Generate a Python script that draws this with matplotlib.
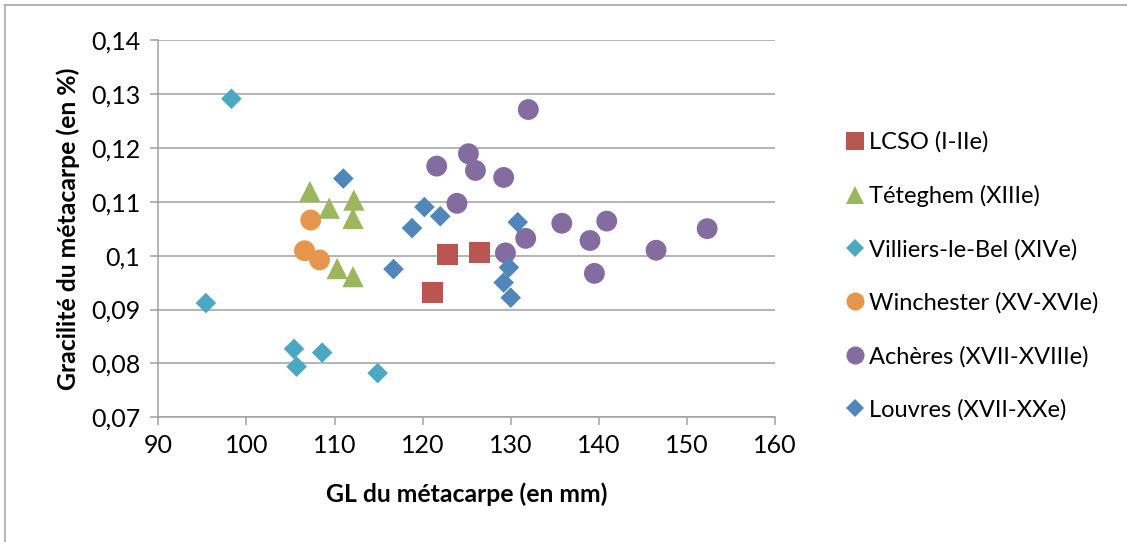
import matplotlib
matplotlib.use("Agg")
import matplotlib.pyplot as plt
from matplotlib.lines import Line2D

plt.rcParams['font.family'] = ['Lato', 'DejaVu Sans']

# ---- data ----
lcso_x = [121.1, 122.8, 126.5]
lcso_y = [0.0932, 0.1002, 0.1005]

teteghem_x = [107.2, 109.4, 112.2, 112.1, 110.3, 112.1]
teteghem_y = [0.1119, 0.1088, 0.1103, 0.1069, 0.0976, 0.0961]

villiers_x = [98.3, 95.4, 105.4, 105.7, 108.6, 114.9]
villiers_y = [0.1291, 0.0912, 0.0827, 0.0794, 0.0820, 0.0782]

winchester_x = [107.3, 106.6, 108.3]
winchester_y = [0.1066, 0.1009, 0.0992]

acheres_x = [132.0, 121.6, 125.2, 126.0, 129.2, 123.9, 131.7, 129.4,
             135.8, 139.0, 140.9, 139.5, 146.5, 152.3]
acheres_y = [0.1271, 0.1166, 0.1189, 0.1158, 0.1145, 0.1097, 0.1032, 0.1005,
             0.1060, 0.1028, 0.1064, 0.0967, 0.1010, 0.1050]

louvres_x = [111.0, 116.7, 118.8, 120.2, 122.0, 130.8, 129.8, 129.2, 130.0]
louvres_y = [0.1143, 0.0975, 0.1051, 0.1090, 0.1073, 0.1062, 0.0978, 0.0950, 0.0922]

labels = ["LCSO (I-IIe)", "Téteghem (XIIIe)", "Villiers-le-Bel (XIVe)",
          "Winchester (XV-XVIe)", "Achères (XVII-XVIIIe)", "Louvres (XVII-XXe)"]
x_ticks = [90, 100, 110, 120, 130, 140, 150, 160]
y_ticks = [0.07, 0.08, 0.09, 0.10, 0.11, 0.12, 0.13, 0.14]
y_ticklabels = ["0,07", "0,08", "0,09", "0,1", "0,11", "0,12", "0,13", "0,14"]

# ---- styling ----
series = [
    (lcso_x, lcso_y, 's', '#BA5650', 230),
    (teteghem_x, teteghem_y, '^', '#9BB65D', 235),
    (villiers_x, villiers_y, 'D', '#4BA8C2', 110),
    (winchester_x, winchester_y, 'o', '#E6954C', 225),
    (acheres_x, acheres_y, 'o', '#856CA0', 225),
    (louvres_x, louvres_y, 'D', '#5086BA', 110),
]
draw_order = [4, 3, 1, 0, 2, 5]

W, H = 1127, 542
fig = plt.figure(figsize=(W / 100, H / 100), dpi=100)
ax = fig.add_axes([158.3 / W, 1 - 417.3 / H, (775 - 158.3) / W, (417.3 - 40) / H])

for i in draw_order:
    xs, ys, m, c, s = series[i]
    ax.scatter(xs, ys, marker=m, s=s, color=c, edgecolors='none', zorder=3)

ax.set_xlim(90, 160)
ax.set_ylim(0.07, 0.14)
ax.set_xticks(x_ticks)
ax.set_xticklabels([str(v) for v in x_ticks])
ax.set_yticks(y_ticks)
ax.set_yticklabels(y_ticklabels)

grid_c = '#A0A0A0'
ax.yaxis.grid(True, color=grid_c, linewidth=1.1, zorder=0)
ax.set_axisbelow(True)
for sp in ['top', 'right']:
    ax.spines[sp].set_visible(False)
for sp in ['left', 'bottom']:
    ax.spines[sp].set_color(grid_c)
    ax.spines[sp].set_linewidth(1.1)
ax.tick_params(axis='both', colors=grid_c, length=6, width=1.1, labelcolor='black',
               labelsize=18)
ax.tick_params(axis='x', pad=6)
ax.tick_params(axis='y', pad=7)

ax.set_xlabel("GL du métacarpe (en mm)", fontsize=17.8, fontweight='bold', labelpad=18)
ax.set_ylabel("Gracilité du métacarpe (en %)", fontsize=17.8, fontweight='bold', labelpad=8)

handles = []
for i in range(6):
    xs, ys, m, c, s = series[i]
    ms = 9 if m == 'D' else 13
    handles.append(Line2D([], [], linestyle='none', marker=m, color=c,
                          markersize=ms, markeredgewidth=0))
fig.legend(handles, labels, loc='upper left', bbox_to_anchor=(836 / W, 1 - 122 / H),
           frameon=False, fontsize=17, labelspacing=1.35, handlelength=0.8,
           handletextpad=0.2, borderaxespad=0)

# chart border (left and top visible)
fig.add_artist(Line2D([5 / W, 5 / W], [0, 1 - 5 / H], color='#A8A8A8', linewidth=1.2))
fig.add_artist(Line2D([5 / W, 1], [1 - 5 / H, 1 - 5 / H], color='#A8A8A8', linewidth=1.2))

fig.savefig("out.png", dpi=100)
